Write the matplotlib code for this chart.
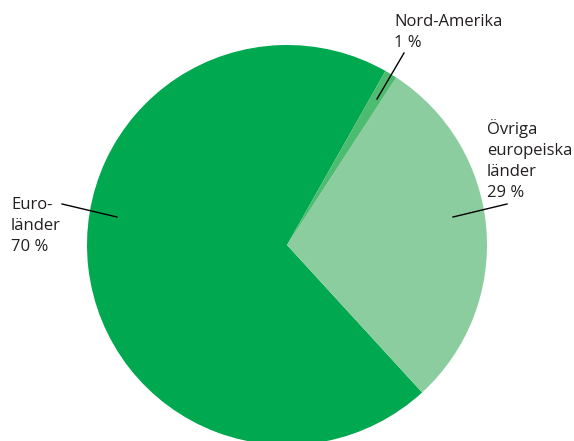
import matplotlib.pyplot as plt

plt.rcParams["font.family"] = ["Open Sans", "DejaVu Sans"]

# %%
labels = ["Euro-\nländer", "Övriga\neuropeiska\nländer", "Nord-Amerika"]
shares = [70, 29, 1]
colors = ["#00a84f", "#8bcd9e", "#4dbb70"]

# label text anchors (left x, last baseline y) and leader lines, in pixels from top-left
label_pos = [(11, 251), (487, 197), (394, 47)]
leaders = [((62, 204), (117, 217)), ((507, 204), (453, 217)), ((404, 53), (377, 99))]

W, H = 574, 441

# %%
fig = plt.figure(figsize=(W / 100, H / 100), dpi=100)
ax = fig.add_axes([0, 0, 1, 1])

ax.pie(
    shares,
    colors=colors,
    center=(287, H - 245),
    radius=200,
    startangle=60.5,
    frame=True,
    wedgeprops=dict(linewidth=0),
)
ax.set_xlim(0, W)
ax.set_ylim(0, H)
ax.axis("off")

for lab, s, (x, y) in zip(labels, shares, label_pos):
    ax.text(x, H - y, f"{lab}\n{s} %", ha="left", va="baseline", fontsize=12,
            linespacing=1.42, color="#231f20")

for (x0, y0), (x1, y1) in leaders:
    ax.plot([x0, x1], [H - y0, H - y1], color="black", lw=1)

fig.savefig("out.png", dpi=100)
